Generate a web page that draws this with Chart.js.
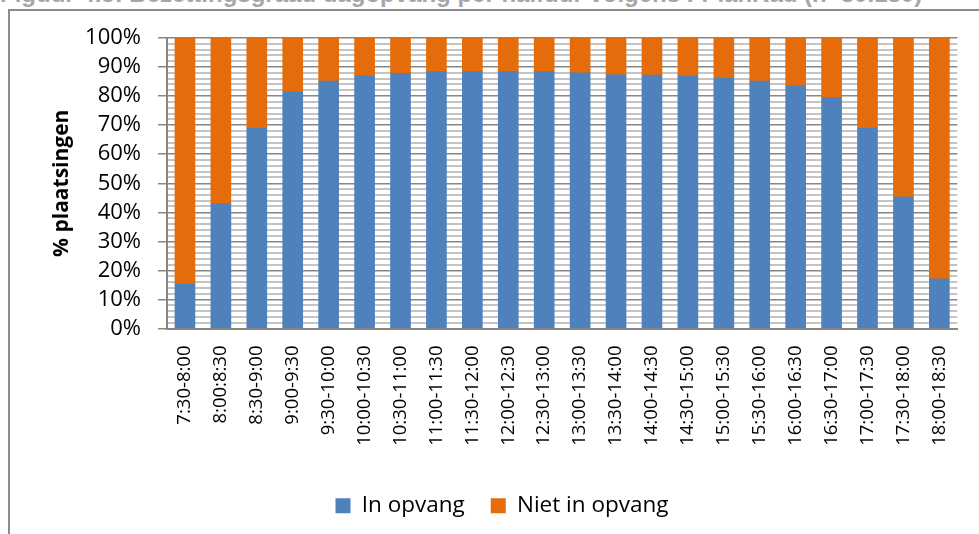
<!DOCTYPE html>
<html>
<head>
<meta charset="utf-8">
<script src="https://cdn.jsdelivr.net/npm/chart.js@4.4.1/dist/chart.umd.min.js"></script>
<style>
  html, body { margin: 0; padding: 0; background: #fff; overflow: hidden; }
  #wrap { position: relative; width: 979px; height: 534px; }
  #frame {
    position: absolute; left: 8px; top: 9px; width: 1000px; height: 600px;
    border-left: 2px solid #8c8c8c; border-top: 2px solid #8c8c8c;
  }
  #caption {
    position: absolute; left: 0; top: -20px; white-space: nowrap;
    font: bold 24px "Liberation Sans", Arial, sans-serif; color: #a6a6a6;
  }
  canvas { position: absolute; left: 0; top: 0; }
</style>
</head>
<body>
<div id="wrap">
  <div id="frame"></div>
  <div id="caption">Figuur 4.5: Bezettingsgraad dagopvang per halfuur volgens I-PlanKad (n=80.180)</div>
  <canvas id="chart" width="979" height="534"></canvas>
</div>
<script>
// tijdvakken per halfuur
const slots = ['7:30-8:00', '8:00:8:30', '8:30-9:00', '9:00-9:30', '9:30-10:00', '10:00-10:30',
    '10:30-11:00', '11:00-11:30', '11:30-12:00', '12:00-12:30', '12:30-13:00', '13:00-13:30',
    '13:30-14:00', '14:00-14:30', '14:30-15:00', '15:00-15:30', '15:30-16:00', '16:00-16:30',
    '16:30-17:00', '17:00-17:30', '17:30-18:00', '18:00-18:30'];

// aandeel plaatsingen (%)
const inOpvang = [15.5, 43.0, 69.0, 81.5, 85.2, 87.0, 87.8, 88.4, 88.4, 88.4, 88.4, 88.0,
    87.3, 87.2, 86.9, 86.4, 85.2, 83.5, 79.5, 69.2, 45.3, 17.1];
const nietInOpvang = [84.5, 57.0, 31.0, 18.5, 14.8, 13.0, 12.2, 11.6, 11.6, 11.6, 11.6, 12.0,
    12.7, 12.8, 13.1, 13.6, 14.8, 16.5, 20.5, 30.8, 54.7, 82.9];

const ctx = document.getElementById('chart').getContext('2d');
const chart = new Chart(ctx, {
    type: 'bar',
    data: {
        labels: slots,
        datasets: [{
            label: 'In opvang',
            data: inOpvang,
            backgroundColor: '#4f81bd',
            barThickness: 20
        }, {
            label: 'Niet in opvang',
            data: nietInOpvang,
            backgroundColor: '#e46c0a',
            barThickness: 20
        }]
    },
    options: {
        responsive: false,
        devicePixelRatio: 1,
        animation: false,
        layout: {
            padding: { left: 45, right: 20, top: 38, bottom: 7 }
        },
        scales: {
            x: {
                stacked: true,
                grid: { display: false, drawTicks: false },
                border: { color: '#868686', width: 2 },
                ticks: {
                    minRotation: 90,
                    maxRotation: 90,
                    padding: 17,
                    color: '#000',
                    font: { family: 'Open Sans', size: 18.5 }
                },
                afterFit: s => { s.height = 140; }
            },
            y: {
                stacked: true,
                min: 0,
                max: 100,
                border: { color: '#868686', width: 2 },
                grid: {
                    color: c => (c.tick.value % 10 === 0 ? '#868686' : '#c4c4c4'),
                    lineWidth: c => (c.tick.value % 10 === 0 ? 1.5 : 2),
                    tickColor: c => (c.tick.value % 10 === 0 ? '#868686' : 'rgba(0,0,0,0)'),
                    tickLength: 9
                },
                ticks: {
                    stepSize: 2,
                    autoSkip: false,
                    padding: 17,
                    color: '#000',
                    font: { family: 'Open Sans', size: 22 },
                    callback: v => (v % 10 === 0 ? v + '%' : '')
                },
                title: {
                    display: true,
                    text: '% plaatsingen',
                    color: '#000',
                    font: { family: 'Open Sans', size: 21, weight: 'bold' }
                },
                afterFit: s => { s.width = 122; }
            }
        },
        plugins: {
            legend: {
                position: 'bottom',
                labels: {
                    boxWidth: 15,
                    boxHeight: 15,
                    padding: 26,
                    color: '#000',
                    font: { family: 'Open Sans', size: 22.5 }
                }
            },
            tooltip: { enabled: false }
        }
    }
});
</script>
</body>
</html>
